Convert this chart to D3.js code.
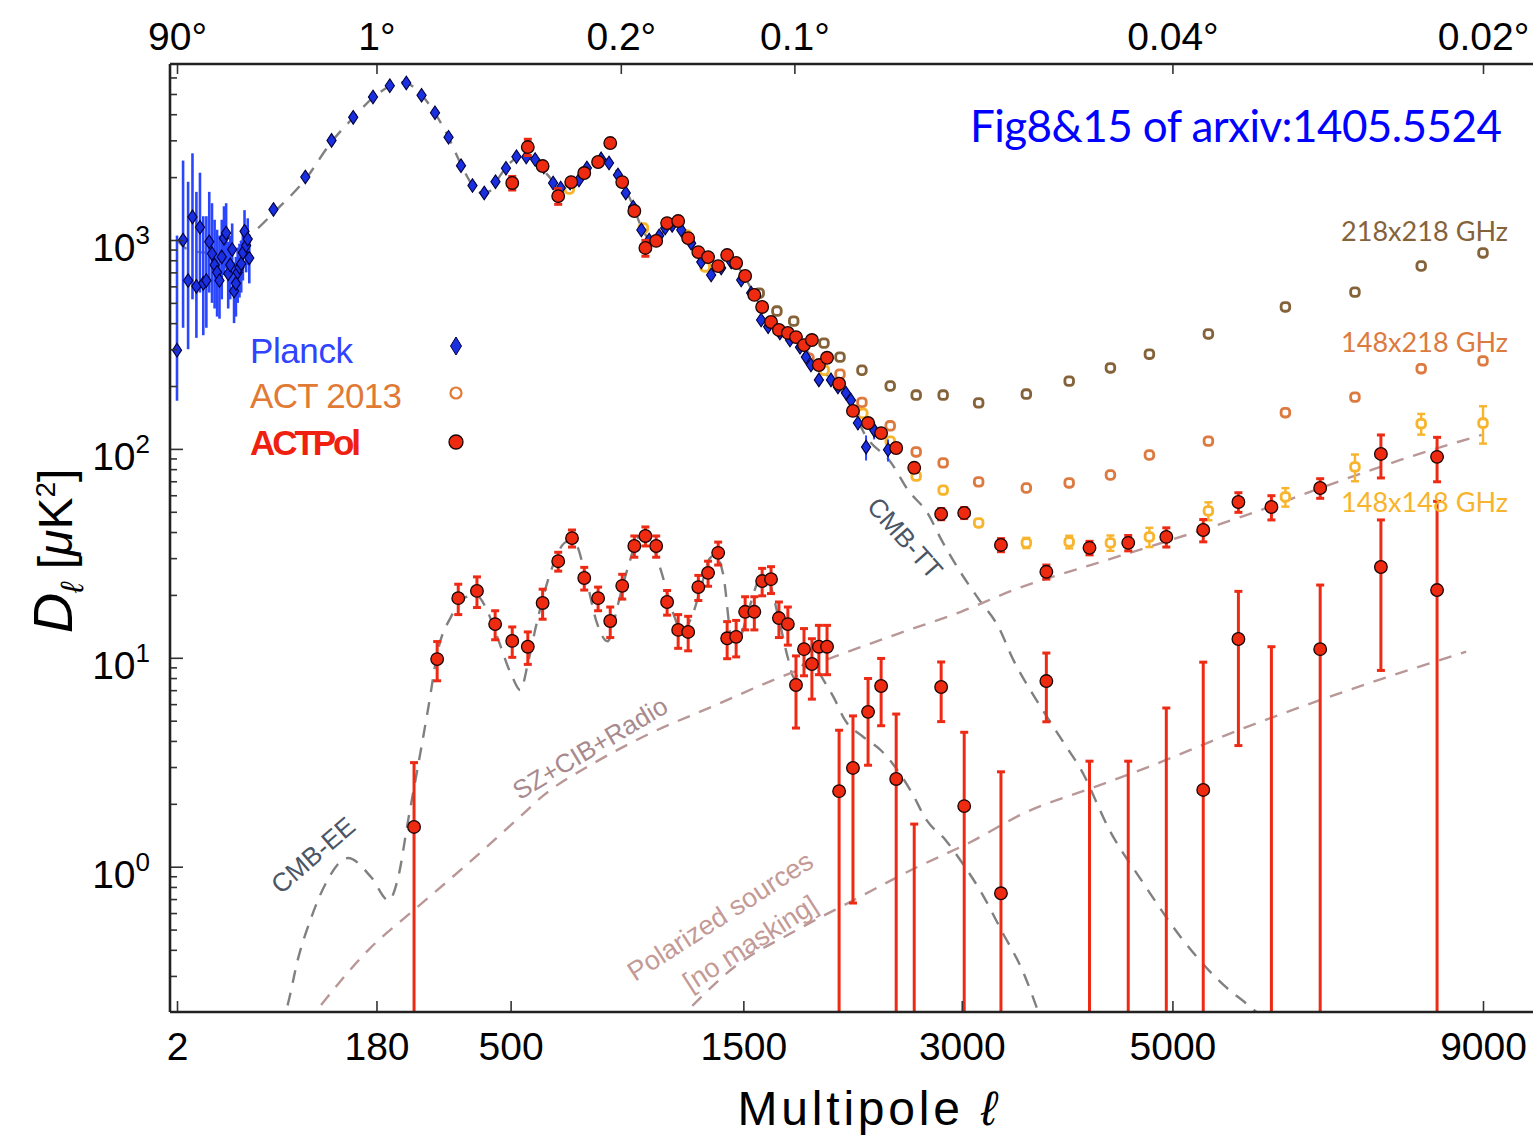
<!DOCTYPE html>
<html><head><meta charset="utf-8">
<script src="https://cdn.jsdelivr.net/npm/d3@7/dist/d3.min.js"></script>
<style>
body{margin:0;background:#fff;}
svg{display:block;font-family:"Liberation Sans",Arial,sans-serif;}
</style></head>
<body>
<svg id="chart" width="1533" height="1136"></svg>
<script>
// ---------------- DATA ----------------
const bottomTickValues = [2,180,500,1500,3000,5000,9000];
const topTickEll = [2,180,900,1800,5000,9000];
const topTickLabels = ["90°","1°","0.2°","0.1°","0.04°","0.02°"];
const yTickValues = [1,10,100,1000];
const yTickExp = ["0","1","2","3"];

// Planck low-ell (individual multipoles)
const planckLowEll = [2,3,4,5,6,7,8,9,10,11,12,13,14,15,16,17,18,19,20,21,22,23,24,25,26,27,28,29,30];
const planckLowD   = [297,1000,640,1290,600,1150,620,640,980,860,760,700,640,830,1020,1080,690,760,900,570,620,700,740,770,870,1100,940,1010,820];
const planckLowLo  = [170,380,300,520,340,560,350,380,560,500,470,430,420,520,680,730,470,520,620,400,430,500,530,560,640,830,700,760,620];
const planckLowHi  = [1050,2400,1900,2600,1700,2100,1300,1300,1700,1500,1250,1120,1050,1250,1450,1500,980,1050,1200,780,830,920,960,990,1100,1390,1180,1270,1030];

// Planck binned high-ell
const planckEll = [48,79,111,142,174,204,236,268,298,330,361,391,423,455,486,518,549,578,607,639,666,700,733,763,819,851,888,921,953,989,1024,1070,1098,1131,1175,1224,1275,1326,1379,1433,1488,1544,1601,1642,1712,1773,1835,1872,1904,1955,2034,2080,2134,2168,2216,2273,2330,2430];
const planckD   = [1400,2003,2998,3865,4840,5478,5646,4931,4064,3102,2269,1822,1680,1902,2205,2505,2495,2428,2236,1875,1774,1875,1936,2213,2445,2338,2049,1680,1438,1117,1000,1047,1141,1175,1117,966,784,680,734,784,643,557,414,384,359,332,307,275,252,214,214,198,185,171,133,102,123,99];
const planckErr = [60,60,70,80,90,90,90,80,70,60,50,40,35,35,40,40,40,40,35,30,30,30,30,35,35,35,30,30,25,25,20,20,20,20,20,18,15,15,15,15,13,12,10,10,10,10,10,10,10,9,9,9,9,9,10,14,12,12];

// ACTPol TT
const actTTEll = [505,554,603,657,704,753,807,856,906,958,1007,1056,1107,1160,1209,1260,1310,1363,1411,1460,1510,1562,1607,1659,1706,1760,1810,1860,1910,1955,2008,2088,2182,2287,2380,2490,2625,2834,3020,3330,3736,4146,4534,4934,5340,5743,6136,6743,7543,8327];
const actTTD   = [1875,2786,2259,1622,1893,2092,2362,2911,1893,1377,916,990,1205,1232,1021,875,828,750,847,776,673,546,478,405,371,359,343,314,332,252,273,205,152,133,119,101,81.2,48.8,49.4,34.7,25.8,33.6,35.5,37.9,40.9,55.7,52.7,65.0,94.6,91.6];
const actTTErr = [140,250,100,140,80,80,90,110,70,50,80,40,40,40,35,30,30,28,28,25,22,20,18,16,14,14,13,12,12,10,10,8,7,6,5,5,4,3,3,2.5,2,2.5,3,4,5,6,7,7,22,22];

// ACTPol EE
const actEEEll = [252,303,354,403,454,505,554,603,657,707,753,807,856,906,958,1007,1056,1107,1160,1209,1260,1310,1363,1411,1460,1510,1562,1607,1659,1706,1760,1810,1860,1910,1955,2008,2088,2182,2287,2380,2490,2625,2834,3020,3330,3736,4146,4534,4934,5340,5743,6136,6743,7543,8327];
const actEED   = [1.55,9.86,19.3,20.9,14.5,12.05,11.3,18.3,29.0,37.4,24.1,19.3,15.0,22.1,34.3,38.3,34.3,18.5,13.6,13.3,21.8,25.5,31.8,12.4,12.6,16.6,16.6,23.3,23.8,15.5,14.5,7.41,11.0,9.34,11.3,11.3,2.30,2.97,5.51,7.33,2.63,-1.0,7.25,1.95,0.746,7.74,-1.5,-1.5,-2.0,2.33,12.3,-2.0,11.0,27.2,21.1];
const actEEErr = [1.6,2.1,3.2,3.5,2.3,2.0,2.0,3.0,3.0,3.5,3.0,2.5,2.5,3.0,4.0,4.0,4.0,2.5,2.5,2.5,3.0,3.5,4.0,2.5,2.5,3.0,3.0,3.5,3.5,3.0,3.0,2.8,2.8,3.0,3.0,3.0,2.2,2.3,2.45,2.6,2.75,2.6,2.3,2.45,2.1,2.8,4.7,4.7,7.75,7.2,8.5,13.3,11.3,18.5,35];

// ACT 2013 spectra
const act218Ell = [1590,1694,1796,1988,2094,2244,2446,2640,2850,3140,3554,3950,4353,4754,5398,6307,7195,8101,9000];
const act218D   = [557,457,409,321,275,238,200,181,181,166,183,211,244,284,355,478,563,751,867];
const act148x218Ell = [1891,2094,2244,2446,2640,2850,3140,3554,3950,4353,4754,5398,6307,7195,8101,9000];
const act148x218D   = [272,228,167,129,96.7,85.7,69.5,65.0,68.7,75.0,93.5,109,149,177,242,264];
const act148Ell = [697,998,1200,1295,1990,2250,2446,2640,2850,3140,3554,3950,4353,4754,5398,6307,7195,8101,9000];
const act148D   = [1754,1141,1057,743,238,148,109,74.1,63.5,44.2,35.5,35.9,35.5,37.9,50.5,58.9,82.0,132,133];
const act148Err = [40,30,25,20,6,4,3,2,2,1.5,2,2.5,3,4,5,6,12,15,27];

// Theory / model curves
const ttEll = [2,4,9,20,36,48,79,111,142,174,204,225,236,268,298,330,361,391,415,440,470,500,530,550,580,620,660,690,730,770,810,840,870,910,950,990,1030,1070,1120,1160,1210,1260,1310,1370,1420,1470,1510,1560,1610,1660,1710,1760,1810,1860,1910,1960,2010,2090,2170,2262,2452,2578,2730,2833,2993,3143,3310,3437,3569,3714,3901,4066,4343,4686,5091,5577,5844,6100];
const ttD   = [1000,900,870,930,1140,1350,1950,2950,3850,4800,5450,5700,5650,4950,4050,3100,2300,1830,1680,1720,2050,2350,2520,2530,2420,2050,1800,1780,1950,2250,2420,2430,2250,1850,1480,1150,1000,1050,1150,1160,1030,870,760,750,770,740,660,550,460,400,370,355,335,305,275,245,225,195,160,118,86,63.5,49,37,25.5,19,14,9.8,7.3,5.5,3.9,2.9,1.5,0.84,0.46,0.27,0.22,0.18];
const eeEll = [55,61,71,85,104,134,171,202,220,240,260,283,305,336,373,400,430,460,505,530,555,580,625,690,720,760,800,845,888,930,989,1030,1079,1130,1180,1230,1275,1320,1350,1390,1440,1480,1530,1600,1640,1700,1760,1800,1870,1930,2000,2050,2130,2250,2380,2600,2720,2870,3000,3164,3330,3540,3650];
const eeD   = [0.17,0.22,0.36,0.56,0.84,1.1,0.89,0.69,0.89,1.68,3.0,5.8,10.9,15.7,19.5,20,17,12.6,8.1,7.0,9.5,14,24.4,36,35,24,15,12,18,27,39,36,26,17,13.5,16,22,30,31,25,12,12.5,17,24,23.5,16,10,8,9.5,9,7.5,6.5,5,4.2,3.6,2.3,1.67,1.34,1.05,0.75,0.5,0.3,0.21];
const fgEll = [97.5,166,252,369,523,607,792,1033,1326,1700,2054,2512,2993,3440,4260,4980,5844,6860,7810,8980];
const fgD   = [0.218,0.399,0.621,0.997,1.70,2.2,3.14,4.37,5.81,8.0,10.1,13.1,16.6,21.1,28.8,36.6,48.3,67.3,88.5,116.7];
const psEll = [1150,1209,1450,1795,2189,2602,3070,3540,4200,4740,5844,7110,8750];
const psD   = [0.18,0.206,0.331,0.488,0.693,0.964,1.31,1.81,2.41,3.0,4.67,7.0,10.7];

// ---------------- DRAW ----------------
const svg = d3.select("#chart");
const L=170, R=1533, T=64, B=1012;
const x = d3.scalePow().exponent(0.45).domain([2,9000]).range([177,1483]);
const y = d3.scaleLog().domain([1,1000]).range([866.7,240]);
const yv = v => (v <= 0.05 ? B+40 : y(v));

svg.append("rect").attr("width",1533).attr("height",1136).attr("fill","#fff");
svg.append("defs").append("clipPath").attr("id","clip")
  .append("rect").attr("x",L).attr("y",T).attr("width",R-L).attr("height",B-T);
const g = svg.append("g").attr("clip-path","url(#clip)");

const line = d3.line().x(d=>x(d[0])).y(d=>y(d[1])).curve(d3.curveMonotoneX);
function dashed(ell,D,color){
  g.append("path").datum(d3.zip(ell,D)).attr("d",line)
   .attr("fill","none").attr("stroke",color).attr("stroke-width",2.4)
   .attr("stroke-dasharray","13,10");
}
dashed(ttEll,ttD,"#808080");
dashed(eeEll,eeD,"#808080");
dashed(fgEll,fgD,"#b99797");
dashed(psEll,psD,"#b99797");

function errBars(rows,color,width,cap){
  const gg = g.append("g").attr("stroke",color).attr("stroke-width",width);
  gg.selectAll("line.v").data(rows).join("line").attr("class","v")
    .attr("x1",d=>x(d[0])).attr("x2",d=>x(d[0]))
    .attr("y1",d=>yv(d[1])).attr("y2",d=>yv(d[2]));
  if(cap){
    const caps = rows.flatMap(d=>[[d[0],d[1]],[d[0],d[2]]]);
    gg.selectAll("line.c").data(caps).join("line").attr("class","c")
      .attr("x1",d=>x(d[0])-cap).attr("x2",d=>x(d[0])+cap)
      .attr("y1",d=>yv(d[1])).attr("y2",d=>yv(d[1]));
  }
}
function openMarks(ell,D,color){
  g.append("g").selectAll("rect").data(d3.zip(ell,D)).join("rect")
   .attr("x",d=>x(d[0])-4.3).attr("y",d=>y(d[1])-4.3).attr("width",8.6).attr("height",8.6)
   .attr("rx",3.2).attr("fill","#fff").attr("stroke",color).attr("stroke-width",2.8);
}
// ACT 2013
openMarks(act218Ell,act218D,"#85633a");
openMarks(act148x218Ell,act148x218D,"#dc7a40");
errBars(act148Ell.map((l,i)=>[l,act148D[i]-act148Err[i],act148D[i]+act148Err[i]]),"#f7b42c",2.4,4);
openMarks(act148Ell,act148D,"#f7b42c");

// Planck
errBars(planckLowEll.map((l,i)=>[l,planckLowLo[i],planckLowHi[i]]),"#2a46ff",2.6,0);
errBars(planckEll.map((l,i)=>[l,planckD[i]-planckErr[i],planckD[i]+planckErr[i]]),"#2a46ff",2,0);
const diamond = "M0,-6.8L4.6,0L0,6.8L-4.6,0Z";
g.append("g").selectAll("path").data(d3.zip(planckLowEll.concat(planckEll),planckLowD.concat(planckD))).join("path")
  .attr("d",diamond).attr("transform",d=>`translate(${x(d[0])},${y(d[1])})`)
  .attr("fill","#1a30e0").attr("stroke","#000040").attr("stroke-width",1.1);

// ACTPol
function redPoints(ell,D,E){
  errBars(ell.map((l,i)=>[l,D[i]-E[i],D[i]+E[i]]),"#ee2a14",3,4);
  g.append("g").selectAll("circle").data(d3.zip(ell,D).filter(d=>d[1]>0)).join("circle")
    .attr("cx",d=>x(d[0])).attr("cy",d=>y(d[1])).attr("r",6.3)
    .attr("fill","#ee2a10").attr("stroke","#1a0505").attr("stroke-width",1.3);
}
redPoints(actEEEll,actEED,actEEErr);
redPoints(actTTEll,actTTD,actTTErr);

// ---------- Axes ----------
const axisColor = "#333";
function styleAxis(a,fs){
  a.select(".domain").remove();
  a.selectAll("line").attr("stroke",axisColor).attr("stroke-width",1.6);
  a.selectAll("text").attr("font-size",fs).attr("fill","#000").attr("font-family","'Liberation Sans',Arial,sans-serif");
}
svg.append("g").attr("transform",`translate(0,${B})`)
  .call(d3.axisBottom(x).tickValues(bottomTickValues).tickFormat(d3.format("d")).tickSize(-11).tickPadding(20).tickSizeOuter(0))
  .call(a=>styleAxis(a,39));
svg.append("g").attr("transform",`translate(0,${T})`)
  .call(d3.axisTop(x).tickValues(topTickEll).tickFormat((d,i)=>topTickLabels[i]).tickSize(-10).tickPadding(14).tickSizeOuter(0))
  .call(a=>styleAxis(a,39));
const minorY = [];
for (let k=-1;k<=3;k++) for (let m=2;m<=9;m++){ const v=m*Math.pow(10,k); if(v>0.2&&v<7000) minorY.push(v); }
svg.append("g").attr("transform",`translate(${L},0)`)
  .call(d3.axisLeft(y).tickValues(minorY).tickFormat("").tickSize(-7).tickSizeOuter(0))
  .call(a=>styleAxis(a,10));
svg.append("g").attr("transform",`translate(${L},0)`)
  .call(d3.axisLeft(y).tickValues(yTickValues).tickFormat("").tickSize(-13).tickSizeOuter(0))
  .call(a=>styleAxis(a,10));
const yl = svg.append("g").selectAll("text").data(yTickValues).join("text")
  .attr("x",150).attr("y",d=>y(d)+21).attr("text-anchor","end").attr("font-size",39).attr("fill","#000");
yl.append("tspan").text("10");
yl.append("tspan").attr("dy",-17).attr("font-size",26).text((d,i)=>yTickExp[i]);

// frame
const frame = svg.append("g").attr("stroke","#222").attr("stroke-width",2.6);
frame.append("line").attr("x1",L).attr("x2",L).attr("y1",T).attr("y2",B);
frame.append("line").attr("x1",L).attr("x2",R).attr("y1",T).attr("y2",T);
frame.append("line").attr("x1",L).attr("x2",R).attr("y1",B).attr("y2",B);

// axis titles
svg.append("text").attr("x",867).attr("y",1125).attr("text-anchor","middle")
  .attr("font-size",48).attr("fill","#000").attr("textLength",259)
  .call(t=>{t.append("tspan").text("Multipole ");t.append("tspan").attr("font-style","italic").text("ℓ");});
const yt = svg.append("text").attr("transform","translate(72,551) rotate(-90)")
  .attr("text-anchor","middle").attr("font-size",48).attr("fill","#000");
yt.append("tspan").attr("font-style","italic").attr("font-size",56).text("D");
yt.append("tspan").attr("font-style","italic").attr("font-size",32).attr("dy",11).text("ℓ");
yt.append("tspan").attr("dy",-11).text(" [");
yt.append("tspan").attr("font-style","italic").text("μ");
yt.append("tspan").text("K");
yt.append("tspan").attr("font-size",28).attr("dy",-17).text("2");
yt.append("tspan").attr("dy",17).text("]");

// curve labels
function rotLabel(txt,cx,cy,ang,fs,color){
  svg.append("text").attr("transform",`translate(${cx},${cy}) rotate(${ang})`)
    .attr("text-anchor","middle").attr("dy","0.35em").attr("font-size",fs).attr("fill",color).text(txt);
}
rotLabel("CMB-TT",905,538,48.5,26,"#4a5566");
rotLabel("CMB-EE",313,855,-40.8,26,"#4a5566");
rotLabel("SZ+CIB+Radio",590,748,-30.7,26,"#a88a8e");
rotLabel("Polarized sources",720,916,-32.8,27,"#c49a96");
rotLabel("[no masking]",750,943,-32.6,27,"#c49a96");

// frequency labels
function freqLabel(txt,yb,color){
  svg.append("text").attr("x",1341).attr("y",yb).attr("font-family","Lato,'Open Sans',sans-serif")
    .attr("font-size",27).attr("fill",color).attr("textLength",167).text(txt);
}
freqLabel("218x218 GHz",241,"#85633a");
freqLabel("148x218 GHz",352,"#dc7a40");
freqLabel("148x148 GHz",512,"#f7b42c");

// reference annotation
svg.append("text").attr("x",970).attr("y",142).attr("font-family","Lato,'Open Sans',sans-serif")
  .attr("font-size",44).attr("fill","#0000ff").attr("textLength",532).text("Fig8&15 of arxiv:1405.5524");

// legend
const legend = svg.append("g");
legend.append("text").attr("x",250).attr("y",363).attr("font-size",35).attr("fill","#3044ff").attr("textLength",103).text("Planck");
legend.append("text").attr("x",250).attr("y",408).attr("font-size",35).attr("fill","#e07a35").attr("textLength",152).text("ACT 2013");
legend.append("text").attr("x",250).attr("y",455).attr("font-size",35).attr("font-weight","bold").attr("fill","#f02010").attr("textLength",111).text("ACTPol");
legend.append("path").attr("d","M0,-9L5.5,0L0,9L-5.5,0Z").attr("transform","translate(456,346)")
  .attr("fill","#1a30e0").attr("stroke","#000040");
legend.append("circle").attr("cx",456).attr("cy",393).attr("r",5.5).attr("fill","#fff").attr("stroke","#e07a35").attr("stroke-width",2.2);
legend.append("circle").attr("cx",456).attr("cy",442).attr("r",7).attr("fill","#ee2a10").attr("stroke","#1a0505").attr("stroke-width",1.3);
</script>
</body></html>
